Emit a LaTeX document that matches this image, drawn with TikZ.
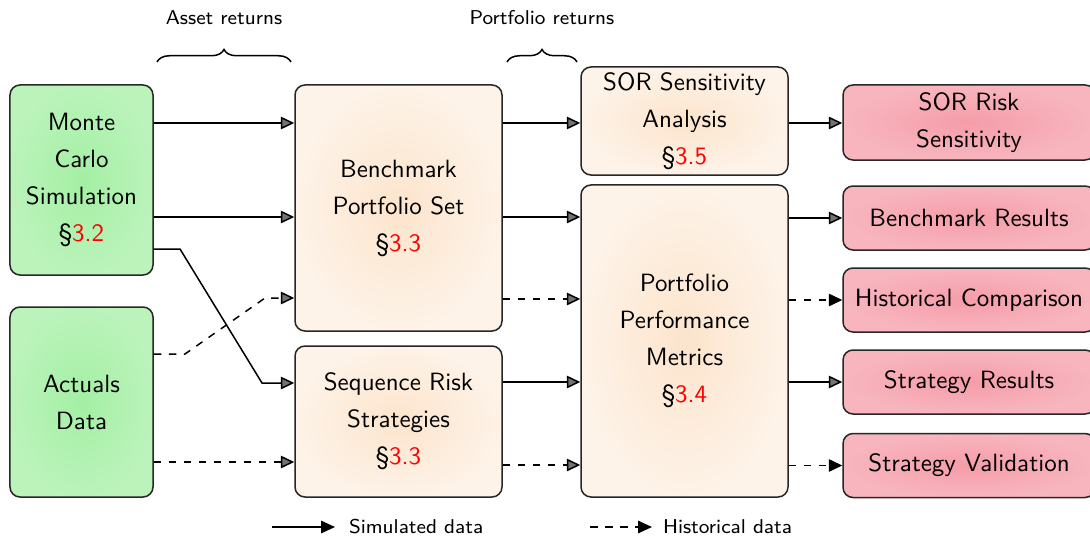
\documentclass[tikz,border=0pt]{standalone}
\usetikzlibrary{arrows.meta,decorations.pathreplacing}

\definecolor{srcgreen}{HTML}{A4EFA4}
\definecolor{stagepeach}{HTML}{FCE4CC}
\definecolor{respink}{HTML}{F59DA9}
\newcommand{\secnum}[1]{\S\textcolor{red}{#1}}

\begin{document}
\begin{tikzpicture}[
  x=0.4pt, y=-0.4pt,
  box/.style={draw=black!85, semithick, rounded corners=4pt, align=center,
    font=\sffamily\fontsize{10}{14.8}\selectfont, inner sep=2pt},
  source/.style={box, shading=radial, inner color=srcgreen, outer color=srcgreen!75},
  stage/.style={box, shading=radial, inner color=stagepeach, outer color=stagepeach!45},
  result/.style={box, shading=radial, inner color=respink, outer color=respink!75,
    minimum width=100.8pt, minimum height=25.6pt},
  simflow/.style={semithick, -{Triangle[length=5.4pt,width=5pt,fill=black!55]}},
  histflow/.style={simflow, dashed},
  outflow/.style={semithick, dashed, -{Triangle[length=5.4pt,width=5pt]}},
  keyflow/.style={semithick, -{Triangle[length=5.6pt,width=5pt]}},
  lbl/.style={font=\sffamily\footnotesize, inner sep=1pt},
  grp/.style={semithick, decorate, decoration={brace, amplitude=5pt}}
]
\clip (0,0) rectangle (1090,539);
\fill[white] (0,0) rectangle (1090,539);

% inputs
\node[source, minimum width=57.2pt, minimum height=76pt] (mc) at (81.5,180)
  {Monte\\Carlo\\Simulation\\\secnum{3.2}};
\node[source, minimum width=57.2pt, minimum height=76pt] (act) at (81.5,402)
  {Actuals\\Data};

% processing stages
\node[stage, minimum width=82.8pt, minimum height=98.4pt] (bench) at (398.5,208)
  {Benchmark\\Portfolio Set\\\secnum{3.3}};
\node[stage, minimum width=82.8pt, minimum height=60.4pt] (seq) at (398.5,421.5)
  {Sequence Risk\\Strategies\\\secnum{3.3}};
\node[stage, minimum width=82.8pt, minimum height=43.2pt] (sens) at (684.5,121)
  {SOR Sensitivity\\Analysis\\\secnum{3.5}};
\node[stage, minimum width=82.8pt, minimum height=124.8pt] (metr) at (684.5,341)
  {Portfolio\\Performance\\Metrics\\\secnum{3.4}};

% outputs
\node[result, minimum height=30pt] (sorrisk) at (969,122.5) {SOR Risk\\Sensitivity};
\node[result] (benchres) at (969,218) {Benchmark Results};
\node[result] (histcmp) at (969,300) {Historical Comparison};
\node[result] (stratres) at (969,382) {Strategy Results};
\node[result] (stratval) at (969,465.5) {Strategy Validation};

% asset returns
\draw[simflow] (mc.east |- 0,123) -- (bench.west |- 0,123);
\draw[simflow] (mc.east |- 0,217) -- (bench.west |- 0,217);
\draw[simflow] (mc.east |- 0,249) -- (180,249) -- (262,383) -- (seq.west |- 0,383);
\draw[histflow] (act.east |- 0,354) -- (185,354) -- (265,298) -- (bench.west |- 0,298);
\draw[histflow] (act.east |- 0,462) -- (seq.west |- 0,462);

% portfolio returns
\draw[simflow] (bench.east |- 0,123) -- (sens.west |- 0,123);
\draw[simflow] (bench.east |- 0,217) -- (metr.west |- 0,217);
\draw[histflow] (bench.east |- 0,299) -- (metr.west |- 0,299);
\draw[simflow] (seq.east |- 0,382) -- (metr.west |- 0,382);
\draw[histflow] (seq.east |- 0,465) -- (metr.west |- 0,465);

% results
\draw[simflow] (sens.east |- 0,123) -- (sorrisk.west |- 0,123);
\draw[simflow] (metr.east |- benchres) -- (benchres.west);
\draw[outflow] (metr.east |- histcmp) -- (histcmp.west);
\draw[simflow] (metr.east |- stratres) -- (stratres.west);
\draw[outflow] (metr.east |- stratval) -- (stratval.west);

% braces
\draw[grp] (157,62) -- (291,62);
\node[lbl] (assetlbl) at (224,18) {Asset returns};
\draw[grp] (507,62) -- (577,62);
\node[lbl] (portlbl) at (542,18) {Portfolio returns};

% key
\coordinate (simA) at (272,527);
\coordinate (simB) at (335,527);
\draw[keyflow] (simA) -- (simB);
\node[lbl, anchor=west] (simlbl) at (346,527) {Simulated data};
\coordinate (histA) at (590,527);
\coordinate (histB) at (652,527);
\draw[keyflow, dashed] (histA) -- (histB);
\node[lbl, anchor=west] (histlbl) at (660,527) {Historical data};
\end{tikzpicture}
\end{document}
